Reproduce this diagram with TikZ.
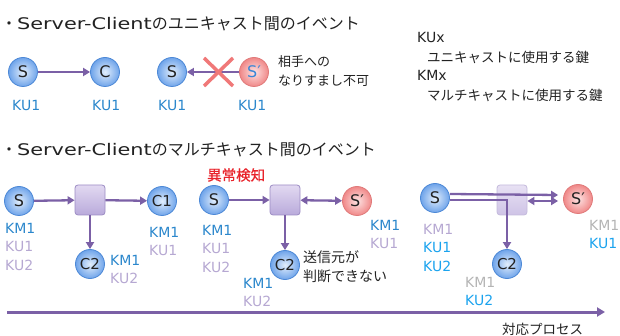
\documentclass[tikz,border=0pt]{standalone}
\usepackage{fontspec}
\setmainfont{DejaVu Sans}
\newfontfamily\cjk{Noto Sans CJK JP}
\newfontfamily\cjkm[FakeBold=0.6]{Noto Sans CJK JP}
\newfontfamily\titlelat[FakeStretch=1.3]{DejaVu Sans}
\usetikzlibrary{arrows.meta,calc}
\definecolor{arr}{HTML}{7B60A6}
\definecolor{kmblue}{HTML}{2B87CC}
\definecolor{lav}{HTML}{B6A8D2}
\definecolor{cyanb}{HTML}{1BA3EE}
\definecolor{lgray}{HTML}{B4B4B4}
\definecolor{redx}{HTML}{F07878}
\definecolor{redtxt}{HTML}{E8232B}
\definecolor{txt}{HTML}{222222}
\definecolor{bin}{HTML}{E2EEFC}
\definecolor{bout}{HTML}{6FA4EA}
\definecolor{bdraw}{HTML}{4C88D6}
\definecolor{pin}{HTML}{FDE3E3}
\definecolor{pout}{HTML}{F08888}
\definecolor{pdraw}{HTML}{E07A7A}
\definecolor{boxtop}{HTML}{E2D9F1}
\definecolor{boxbot}{HTML}{B9AADB}
\definecolor{boxdraw}{HTML}{9C8CC4}
\definecolor{spblue}{HTML}{3A86D6}
\tikzset{
  bnode/.style={circle, minimum size=29pt, inner sep=0pt, draw=bdraw, line width=0.8pt,
    inner color=bin, outer color=bout, text=txt, font=\fontsize{16}{16}\selectfont},
  pnode/.style={circle, minimum size=29pt, inner sep=0pt, draw=pdraw, line width=0.8pt,
    inner color=pin, outer color=pout, text=txt, font=\fontsize{16}{16}\selectfont},
  hubbox/.style={rectangle, rounded corners=3pt, minimum width=30pt, minimum height=30pt,
    draw=boxdraw, line width=0.8pt, top color=boxtop, bottom color=boxbot},
  conn/.style={draw=arr, line width=2.3pt, -{Triangle[length=7pt,width=8pt]}},
  conn2/.style={draw=arr, line width=2.3pt, {Triangle[length=7pt,width=8pt]}-{Triangle[length=7pt,width=8pt]}},
  xmark/.style={draw=redx, line width=3.5pt},
  lbl/.style={anchor=north west, inner sep=0pt, align=left, font=\fontsize{14}{18.5}\selectfont},
  jtxt/.style={anchor=north west, inner sep=0pt, align=left, text=txt},
}
\begin{document}
\begin{tikzpicture}[x=1pt,y=-1pt]
\useasboundingbox (0,0) rectangle (620,336);

% titles
\node[anchor=west, inner sep=0pt, text=txt] (t1) at (1,24)
  {\fontsize{16}{18}\selectfont\cjk ・{\titlelat\fontsize{16}{18}\selectfont Server-Client}のユニキャスト間のイベント};
\node[anchor=west, inner sep=0pt, text=txt] (t2) at (1,150)
  {\fontsize{16}{18}\selectfont\cjk ・{\titlelat\fontsize{16}{18}\selectfont Server-Client}のマルチキャスト間のイベント};

% legend
\node[anchor=west, inner sep=0pt, text=txt, font=\fontsize{14}{14}\selectfont] (kux) at (417,37) {KUx};
\node[anchor=west, inner sep=0pt, text=txt, font=\fontsize{13.5}{14}\selectfont\cjk] (kud) at (427,57) {ユニキャストに使用する鍵};
\node[anchor=west, inner sep=0pt, text=txt, font=\fontsize{14}{14}\selectfont] (kmx) at (417,75) {KMx};
\node[anchor=west, inner sep=0pt, text=txt, font=\fontsize{13.5}{14}\selectfont\cjk] (kmd) at (427,95) {マルチキャストに使用する鍵};

% ---- unicast row
\node[bnode] (s1) at (23,72) {S};
\node[bnode] (c1) at (105,72) {C};
\node[bnode] (s2) at (172,72) {S};
\node[pnode, text=spblue] (sp1) at (254,72) {S′};
\draw[conn] (s1) -- (c1);
\draw[conn] (sp1) -- (s2);
\draw[xmark] (204,58) -- (233,86);
\draw[xmark] (233,58) -- (204,86);
\node[jtxt, font=\fontsize{13}{19}\selectfont\cjk] (imp) at (278,55) {相手への\\なりすまし不可};
\node[lbl, text=kmblue] (l1) at (12,100) {KU1};
\node[lbl, text=kmblue] (l2) at (92,100) {KU1};
\node[lbl, text=kmblue] (l3) at (158,100) {KU1};
\node[lbl, text=kmblue] (l4) at (238,100) {KU1};

% ---- multicast panel 1
\node[bnode] (sa) at (19,201) {S};
\node[hubbox] (boxa) at (90,200) {};
\node[bnode, font=\fontsize{15}{15}\selectfont] (c1a) at (162,201) {C1};
\node[bnode, font=\fontsize{15}{15}\selectfont] (c2a) at (90,264) {C2};
\draw[conn] (sa) -- (boxa);
\draw[conn] (boxa) -- (c1a);
\draw[conn] (boxa) -- (c2a);
\node[lbl] (la1) at (5,223) {\textcolor{kmblue}{KM1}\\\textcolor{lav}{KU1}\\\textcolor{lav}{KU2}};
\node[lbl] (la2) at (149,227) {\textcolor{kmblue}{KM1}\\\textcolor{lav}{KU1}};
\node[lbl] (la3) at (110,255) {\textcolor{kmblue}{KM1}\\\textcolor{lav}{KU2}};

% ---- multicast panel 2
\node[anchor=west, inner sep=0pt, text=redtxt, font=\fontsize{14.5}{15}\selectfont\cjkm] (ab) at (207,175) {異常検知};
\node[bnode] (sb) at (214,200) {S};
\node[hubbox] (boxb) at (285,200) {};
\node[pnode] (spb) at (357,201) {S′};
\node[bnode, font=\fontsize{15}{15}\selectfont] (c2b) at (285,265) {C2};
\draw[conn] (sb) -- (boxb);
\draw[conn2] (boxb) -- (spb);
\draw[conn] (boxb) -- (c2b);
\node[jtxt, font=\fontsize{14}{19}\selectfont\cjk] (unk) at (303,250) {送信元が\\判断できない};
\node[lbl] (lb1) at (202,225) {\textcolor{kmblue}{KM1}\\\textcolor{lav}{KU1}\\\textcolor{lav}{KU2}};
\node[lbl] (lb2) at (370,220) {\textcolor{kmblue}{KM1}\\\textcolor{lav}{KU1}};
\node[lbl] (lb3) at (243,278) {\textcolor{kmblue}{KM1}\\\textcolor{lav}{KU2}};

% ---- multicast panel 3
\node[hubbox, draw=boxdraw!60, top color=boxtop!80, bottom color=boxbot!70] (boxc) at (512,200) {};
\node[bnode] (sc) at (435,198) {S};
\node[pnode] (spc) at (578,199) {S′};
\node[bnode, font=\fontsize{15}{15}\selectfont] (c2c) at (507,264) {C2};
\draw[conn] ($(sc.east)+(0,-4)$) -- ($(spc.west)+(-5,-4)$);
\draw[conn] ($(sc.east)+(0,2)$) -| (c2c.north);
\draw[conn2] ($(boxc.east)+(0,1)$) -- ($(spc.west)+(-5,2)$);
\node[lbl] (lc1) at (423,224) {\textcolor{lav}{KM1}\\\textcolor{cyanb}{KU1}\\\textcolor{cyanb}{KU2}};
\node[lbl] (lc2) at (589,220) {\textcolor{lgray}{KM1}\\\textcolor{cyanb}{KU1}};
\node[lbl] (lc3) at (465,277) {\textcolor{lgray}{KM1}\\\textcolor{cyanb}{KU2}};

% ---- process axis
\coordinate (pl) at (7,312);
\coordinate (pr) at (605,312);
\draw[conn, line width=3pt, -{Triangle[length=8pt,width=9pt]}] (pl) -- (pr);
\node[anchor=west, inner sep=0pt, text=txt, font=\fontsize{13.5}{14}\selectfont\cjk] (proc) at (502,329) {対応プロセス};
\end{tikzpicture}
\end{document}
